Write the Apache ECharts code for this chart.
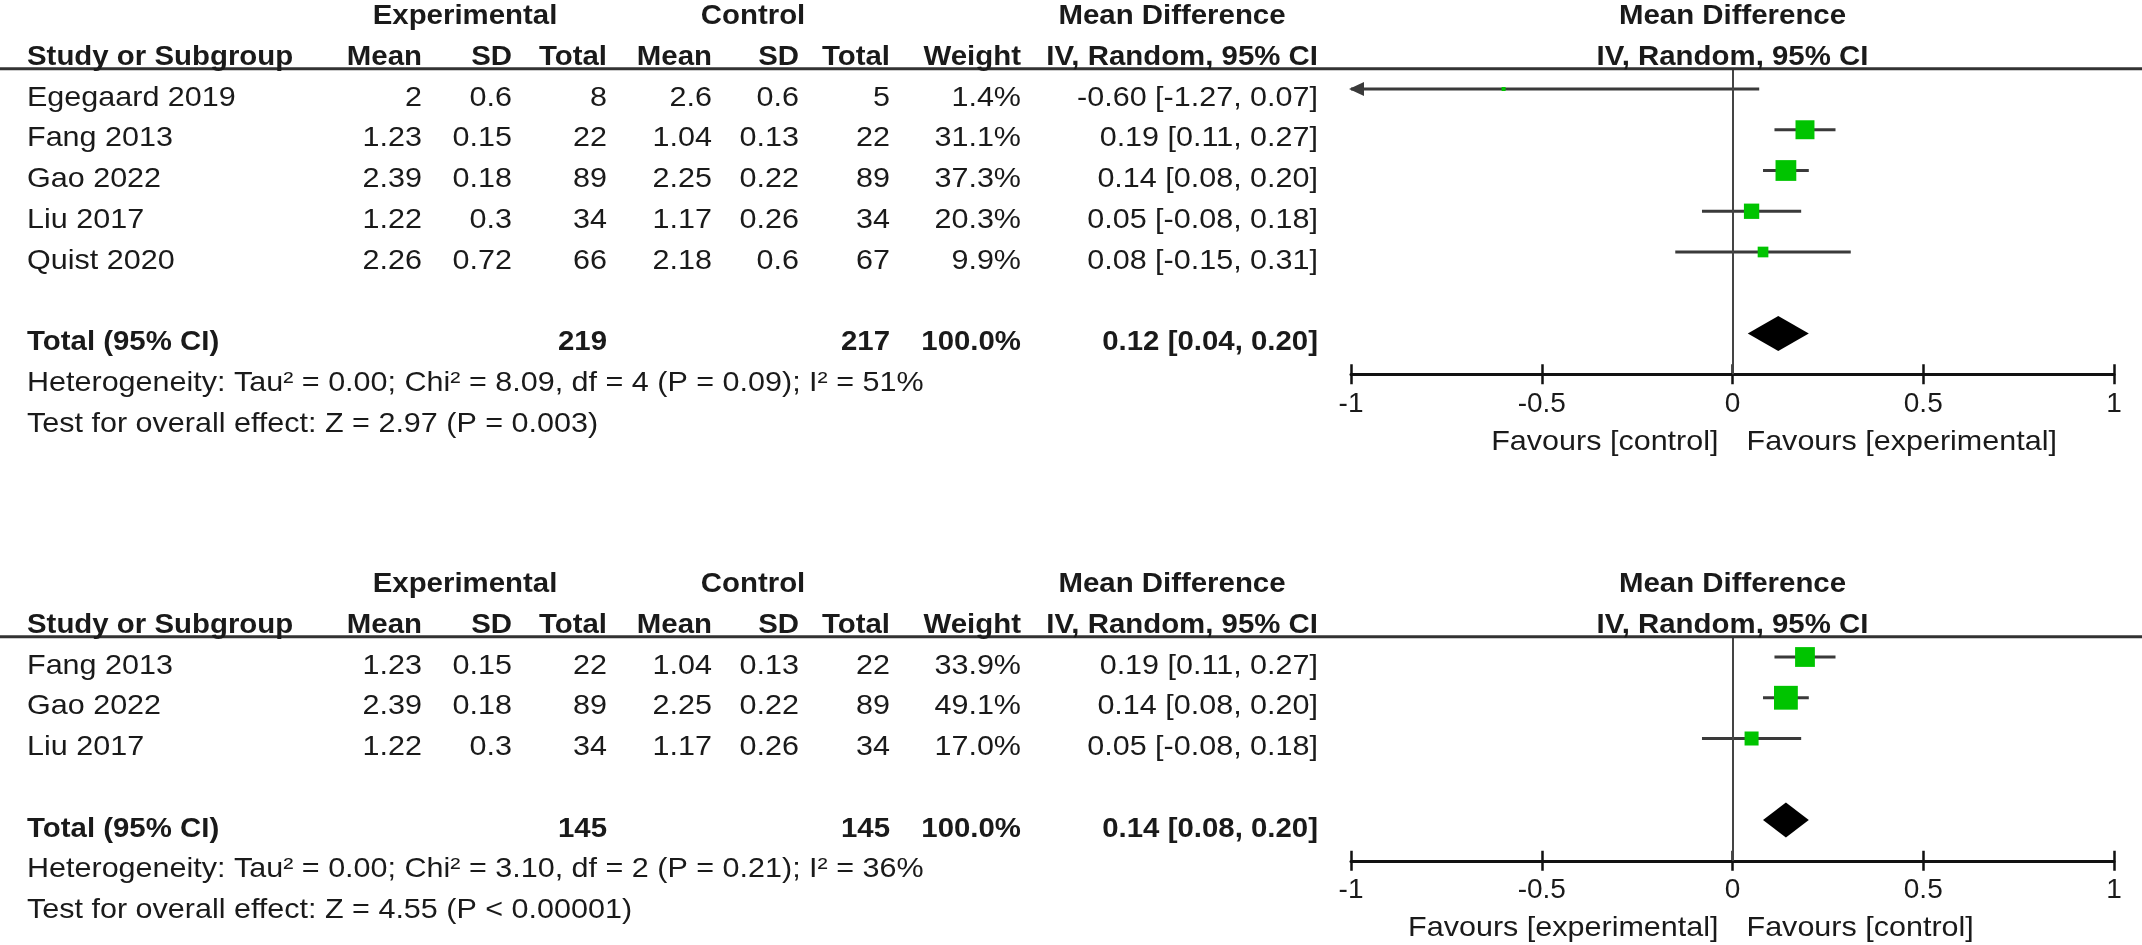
<!DOCTYPE html>
<html>
<head>
<meta charset="utf-8">
<title>Mean difference forest plots</title>
<script src="https://cdn.jsdelivr.net/npm/echarts@6/dist/echarts.min.js"></script>
<style>
    html, body { margin: 0; padding: 0; background: #fff; }
    #chart { width: 2142px; height: 945px; }
</style>
</head>
<body>
<div id="chart"></div>
<script>
// ---- analysis 1: all five studies
var studies1 = ['Egegaard 2019', 'Fang 2013', 'Gao 2022', 'Liu 2017', 'Quist 2020'];
var expMean1 = [2, 1.23, 2.39, 1.22, 2.26];
var expSD1 = [0.6, 0.15, 0.18, 0.3, 0.72];
var expN1 = [8, 22, 89, 34, 66];
var ctlMean1 = [2.6, 1.04, 2.25, 1.17, 2.18];
var ctlSD1 = [0.6, 0.13, 0.22, 0.26, 0.6];
var ctlN1 = [5, 22, 89, 34, 67];
var weight1 = [1.4, 31.1, 37.3, 20.3, 9.9];
var md1 = [-0.60, 0.19, 0.14, 0.05, 0.08];
var lo1 = [-1.27, 0.11, 0.08, -0.08, -0.15];
var hi1 = [0.07, 0.27, 0.20, 0.18, 0.31];
var total1 = [219, 217, 100.0];      // exp N, control N, weight
var pooled1 = [0.12, 0.04, 0.20];    // md, lower, upper
var het1 = 'Heterogeneity: Tau\u00b2 = 0.00; Chi\u00b2 = 8.09, df = 4 (P = 0.09); I\u00b2 = 51%';
var test1 = 'Test for overall effect: Z = 2.97 (P = 0.003)';
var favours1 = ['Favours [control]', 'Favours [experimental]'];

// ---- analysis 2: three studies
var studies2 = ['Fang 2013', 'Gao 2022', 'Liu 2017'];
var expMean2 = [1.23, 2.39, 1.22];
var expSD2 = [0.15, 0.18, 0.3];
var expN2 = [22, 89, 34];
var ctlMean2 = [1.04, 2.25, 1.17];
var ctlSD2 = [0.13, 0.22, 0.26];
var ctlN2 = [22, 89, 34];
var weight2 = [33.9, 49.1, 17.0];
var md2 = [0.19, 0.14, 0.05];
var lo2 = [0.11, 0.08, -0.08];
var hi2 = [0.27, 0.20, 0.18];
var total2 = [145, 145, 100.0];
var pooled2 = [0.14, 0.08, 0.20];
var het2 = 'Heterogeneity: Tau\u00b2 = 0.00; Chi\u00b2 = 3.10, df = 2 (P = 0.21); I\u00b2 = 36%';
var test2 = 'Test for overall effect: Z = 4.55 (P < 0.00001)';
var favours2 = ['Favours [experimental]', 'Favours [control]'];

// ---- header / axis labels
var groupHeads = ['Experimental', 'Control', 'Mean Difference'];
var colHeads = ['Study or Subgroup', 'Mean', 'SD', 'Total', 'Mean', 'SD', 'Total', 'Weight', 'IV, Random, 95% CI'];
var totalLabel = 'Total (95% CI)';
var xTicks = [-1, -0.5, 0, 0.5, 1];

// ---- layout
var rowH = 40.75;
var plotLeft = 1351, plotRight = 2114;
var FONT = '"Liberation Sans", Arial, sans-serif';
var FS = 28;
var STRETCH = 1.09, STRETCH_BOLD = 1.05;
var INK = '#1a1a1a';
var colX = [27, 422, 512, 607, 712, 799, 890, 1021, 1318];
var colAlign = ['left', 'right', 'right', 'right', 'right', 'right', 'right', 'right', 'right'];
var groupX = [465, 753, 1172];

var panels = [
    {
        firstRow: 89, yMax: 7,
        studies: studies1, expMean: expMean1, expSD: expSD1, expN: expN1,
        ctlMean: ctlMean1, ctlSD: ctlSD1, ctlN: ctlN1, weight: weight1,
        md: md1, lo: lo1, hi: hi1, total: total1, pooled: pooled1,
        het: het1, test: test1, favours: favours1
    },
    {
        firstRow: 657, yMax: 5,
        studies: studies2, expMean: expMean2, expSD: expSD2, expN: expN2,
        ctlMean: ctlMean2, ctlSD: ctlSD2, ctlN: ctlN2, weight: weight2,
        md: md2, lo: lo2, hi: hi2, total: total2, pooled: pooled2,
        het: het2, test: test2, favours: favours2
    }
];

function ciText(m, l, h) {
    return m.toFixed(2) + ' [' + l.toFixed(2) + ', ' + h.toFixed(2) + ']';
}

function cell(row, text, x, align, bold) {
    return { row: row, text: text, x: x, align: align, bold: !!bold };
}

// every text of one panel, placed on the panel's row axis
function panelCells(p) {
    var c = [];
    var n = p.studies.length;
    c.push({ row: -0.5, rule: true });
    for (var g = 0; g < groupHeads.length; g++) {
        c.push(cell(-2, groupHeads[g], groupX[g], 'center', true));
    }
    c.push(cell(-2, groupHeads[2], 'zero', 'center', true));
    for (var k = 0; k < colHeads.length; k++) {
        c.push(cell(-1, colHeads[k], colX[k], colAlign[k], true));
    }
    c.push(cell(-1, colHeads[8], 'zero', 'center', true));
    for (var i = 0; i < n; i++) {
        var vals = [p.studies[i], String(p.expMean[i]), String(p.expSD[i]), String(p.expN[i]),
            String(p.ctlMean[i]), String(p.ctlSD[i]), String(p.ctlN[i]),
            p.weight[i].toFixed(1) + '%', ciText(p.md[i], p.lo[i], p.hi[i])];
        for (var j = 0; j < vals.length; j++) {
            c.push(cell(i, vals[j], colX[j], colAlign[j], false));
        }
    }
    var tr = n + 1;
    c.push(cell(tr, totalLabel, colX[0], 'left', true));
    c.push(cell(tr, String(p.total[0]), colX[3], 'right', true));
    c.push(cell(tr, String(p.total[1]), colX[6], 'right', true));
    c.push(cell(tr, p.total[2].toFixed(1) + '%', colX[7], 'right', true));
    c.push(cell(tr, ciText(p.pooled[0], p.pooled[1], p.pooled[2]), colX[8], 'right', true));
    c.push(cell(tr + 1, p.het, colX[0], 'left', false));
    c.push(cell(tr + 2, p.test, colX[0], 'left', false));
    c.push({ row: p.yMax, text: p.favours[0], x: 'zero', dx: -14, dy: 68, align: 'right' });
    c.push({ row: p.yMax, text: p.favours[1], x: 'zero', dx: 14, dy: 68, align: 'left' });
    return c;
}

function textRenderer(cells) {
    return function (params, api) {
        var c = cells[params.dataIndex];
        var pt = api.coord([0, c.row]);
        if (c.rule) {
            return {
                type: 'line',
                shape: { x1: 0, y1: pt[1], x2: api.getWidth(), y2: pt[1] },
                style: { stroke: '#333', lineWidth: 3 }
            };
        }
        var x = c.x === 'zero' ? pt[0] + (c.dx || 0) : c.x;
        return {
            type: 'text',
            x: x,
            y: pt[1] + (c.dy == null ? 9 : c.dy),
            scaleX: c.bold ? STRETCH_BOLD : STRETCH,
            style: {
                text: c.text,
                fill: INK,
                font: (c.bold ? 'bold ' : '') + FS + 'px ' + FONT,
                align: c.align,
                verticalAlign: 'middle',
                textAlign: c.align,
                textVerticalAlign: 'middle'
            }
        };
    };
}

// confidence interval line, with an arrow where it runs off the scale
function renderCI(params, api) {
    var lo = api.value(0), hi = api.value(1), row = api.value(2);
    var a = api.coord([Math.max(lo, xTicks[0]), row]);
    var b = api.coord([Math.min(hi, xTicks[xTicks.length - 1]), row]);
    var st = { stroke: '#3a3a3a', lineWidth: 3, fill: null };
    var kids = [{ type: 'line', shape: { x1: a[0], y1: a[1], x2: b[0], y2: b[1] }, style: st }];
    if (lo < xTicks[0]) {
        kids.push({ type: 'polygon', shape: { points: [[a[0] - 2, a[1]], [a[0] + 13, a[1] - 7], [a[0] + 13, a[1] + 7]] }, style: { fill: '#3a3a3a' } });
    }
    if (hi > xTicks[xTicks.length - 1]) {
        kids.push({ type: 'polygon', shape: { points: [[b[0] + 2, b[1]], [b[0] - 13, b[1] - 7], [b[0] - 13, b[1] + 7]] }, style: { fill: '#3a3a3a' } });
    }
    return { type: 'group', children: kids };
}

function renderDiamond(params, api) {
    var m = api.coord([api.value(0), api.value(3)]);
    var l = api.coord([api.value(1), api.value(3)]);
    var h = api.coord([api.value(2), api.value(3)]);
    var half = 17.5;
    return {
        type: 'polygon',
        shape: { points: [[l[0], l[1]], [m[0], m[1] - half], [h[0], h[1]], [m[0], m[1] + half]] },
        style: { fill: '#000' }
    };
}

var option = {
    animation: false,
    backgroundColor: '#fff',
    grid: [],
    xAxis: [],
    yAxis: [],
    series: []
};

panels.forEach(function (p, k) {
    var top = p.firstRow - 0.5 * rowH;
    option.grid.push({
        left: plotLeft, width: plotRight - plotLeft,
        top: top, height: (p.yMax + 0.5) * rowH
    });
    // main axis: line, outward ticks, labels
    option.xAxis.push({
        gridIndex: k, type: 'value', position: 'bottom',
        min: xTicks[0], max: xTicks[xTicks.length - 1], interval: 0.5,
        axisLine: { show: true, onZero: false, lineStyle: { color: '#111', width: 3 } },
        axisTick: { show: true, length: 10, lineStyle: { color: '#111', width: 2.5 } },
        axisLabel: {
            color: INK, fontSize: FS, fontFamily: FONT, margin: 16,
            formatter: function (v) { return String(v); }
        },
        splitLine: { show: false }
    });
    // twin axis: the inward half of each tick
    option.xAxis.push({
        gridIndex: k, type: 'value', position: 'bottom',
        min: xTicks[0], max: xTicks[xTicks.length - 1], interval: 0.5,
        axisLine: { show: false, onZero: false },
        axisTick: { show: true, inside: true, length: 10, lineStyle: { color: '#111', width: 2.5 } },
        axisLabel: { show: false },
        splitLine: { show: false }
    });
    option.yAxis.push({
        gridIndex: k, type: 'value', inverse: true, show: false,
        min: -0.5, max: p.yMax
    });

    var ciData = p.md.map(function (m, i) { return [p.lo[i], p.hi[i], i]; });
    var sqData = p.md.map(function (m, i) { return [m, i, p.weight[i]]; });
    var cells = panelCells(p);

    option.series.push({
        type: 'custom', xAxisIndex: 2 * k, yAxisIndex: k, z: 2, silent: true,
        renderItem: renderCI, data: ciData
    });
    option.series.push({
        type: 'scatter', xAxisIndex: 2 * k, yAxisIndex: k, z: 3, silent: true,
        symbol: 'rect',
        symbolSize: function (v) { return 3.4 * Math.sqrt(v[2]); },
        itemStyle: { color: '#00c400', opacity: 1 },
        data: sqData,
        markLine: {
            silent: true, symbol: ['none', 'none'], label: { show: false },
            lineStyle: { color: '#444', width: 2, type: 'solid' },
            data: [{ xAxis: 0 }]
        }
    });
    option.series.push({
        type: 'custom', xAxisIndex: 2 * k, yAxisIndex: k, z: 3, silent: true,
        renderItem: renderDiamond,
        data: [[p.pooled[0], p.pooled[1], p.pooled[2], p.studies.length + 1]]
    });
    option.series.push({
        type: 'custom', xAxisIndex: 2 * k, yAxisIndex: k, z: 5, silent: true, clip: false,
        renderItem: textRenderer(cells),
        data: cells.map(function (c) { return [0, c.row]; })
    });
});

var chart = echarts.init(document.getElementById('chart'));
chart.setOption(option);
</script>
</body>
</html>
